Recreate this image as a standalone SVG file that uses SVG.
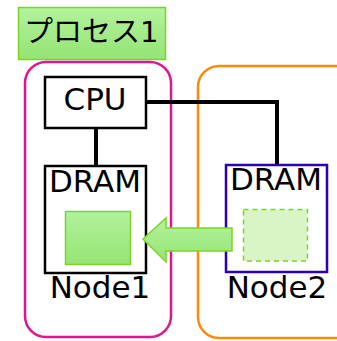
<svg xmlns="http://www.w3.org/2000/svg" width="337" height="341" viewBox="0 0 337 341">
  <defs>
    <linearGradient id="greenFill" x1="0" y1="0" x2="0" y2="1">
      <stop offset="0" stop-color="#b2f29c"/>
      <stop offset="1" stop-color="#95e474"/>
    </linearGradient>
    <style>
      .lbl { font-family: "DejaVu Sans", "Noto Sans CJK JP", sans-serif; font-size: 31px; fill: #000; }
      .box { fill: #fff; stroke: #000; stroke-width: 2.5; }
      .wire { fill: none; stroke: #000; stroke-width: 4; }
      .data { fill: url(#greenFill); stroke: #7ed32a; stroke-width: 1.5; }
    </style>
  </defs>

  <!-- process label -->
  <g id="process-label">
    <rect x="18.5" y="7.5" width="147" height="52" fill="url(#greenFill)" stroke="#7ed32a" stroke-width="1.5"/>
    <text x="24" y="42" class="lbl" style="font-size:29px">プロセス1</text>
  </g>

  <!-- node boundaries -->
  <g id="node1">
    <rect x="25" y="62" width="146" height="275" rx="21" fill="none" stroke="#e0168c" stroke-width="2.5"/>
    <text x="100" y="298" class="lbl" text-anchor="middle">Node1</text>
  </g>
  <g id="node2">
    <rect x="198" y="66" width="160" height="272" rx="21" fill="none" stroke="#ff8a0a" stroke-width="2.5"/>
    <text x="277" y="298" class="lbl" text-anchor="middle">Node2</text>
  </g>

  <!-- connectors -->
  <g id="connectors">
    <line x1="96" y1="128" x2="96" y2="165" class="wire"/>
    <polyline points="146,102 277,102 277,164" class="wire"/>
  </g>

  <g id="cpu">
    <rect x="45" y="77" width="101" height="51" class="box"/>
    <text x="95" y="110" class="lbl" text-anchor="middle">CPU</text>
  </g>

  <g id="dram1">
    <rect x="45" y="166" width="101" height="107" class="box"/>
    <text x="95" y="192" class="lbl" text-anchor="middle">DRAM</text>
    <rect x="65.5" y="211.5" width="65" height="53" class="data"/>
  </g>

  <g id="dram2">
    <rect x="226" y="165" width="101" height="107" fill="#fff" stroke="#2a00b8" stroke-width="2.5"/>
    <text x="276" y="190" class="lbl" text-anchor="middle">DRAM</text>
    <rect x="243.5" y="209.5" width="64" height="51.5" fill="#d9f5c6" stroke="#7ed32a" stroke-width="1.5" stroke-dasharray="5,4"/>
  </g>

  <!-- migration arrow -->
  <g id="migration-arrow">
    <polygon points="143,239 166,218 166,228 232,228 232,251 166,251 166,262" class="data"/>
  </g>
</svg>
